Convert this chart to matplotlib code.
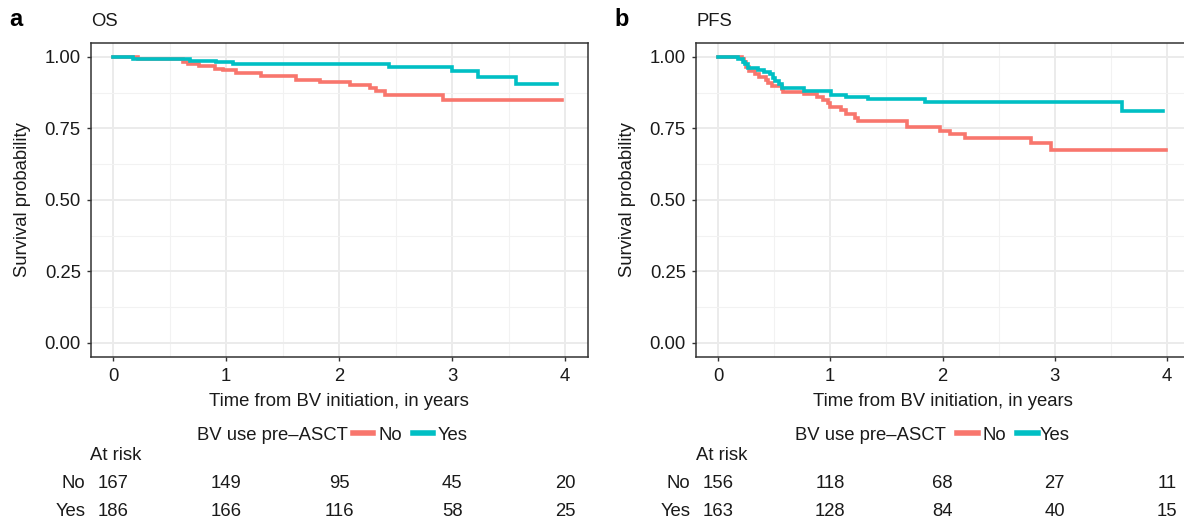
import matplotlib
matplotlib.use("Agg")
import matplotlib.pyplot as plt
from matplotlib.lines import Line2D
from matplotlib.transforms import blended_transform_factory

plt.rcParams['font.family'] = ['Liberation Sans', 'DejaVu Sans']

# ---------------- data ----------------
os_no_t = [0.0, 0.22, 0.615, 0.665, 0.76, 0.90, 0.97, 1.09, 1.31, 1.62, 1.83, 2.10, 2.27, 2.33, 2.41, 2.92, 3.97]
os_no_s = [1.0, 0.992, 0.983, 0.976, 0.967, 0.959, 0.953, 0.945, 0.934, 0.918, 0.911, 0.901, 0.892, 0.880, 0.866, 0.849, 0.849]
os_yes_t = [0.0, 0.18, 0.68, 0.915, 1.06, 2.44, 3.00, 3.23, 3.57, 3.93]
os_yes_s = [1.0, 0.994, 0.987, 0.981, 0.976, 0.965, 0.950, 0.931, 0.907, 0.907]

pfs_no_t = [0.0, 0.21, 0.23, 0.25, 0.28, 0.33, 0.37, 0.43, 0.45, 0.48, 0.57, 0.58, 0.77, 0.88, 0.94,
            0.98, 1.00, 1.10, 1.14, 1.22, 1.25, 1.68, 1.98, 2.07, 2.20, 2.79, 2.97, 3.99]
pfs_no_s = [1.0, 0.992, 0.981, 0.965, 0.950, 0.941, 0.929, 0.921, 0.909, 0.900, 0.889, 0.878, 0.871, 0.861, 0.851,
            0.839, 0.824, 0.813, 0.802, 0.787, 0.775, 0.754, 0.742, 0.731, 0.717, 0.699, 0.676, 0.676]
pfs_yes_t = [0.0, 0.18, 0.22, 0.24, 0.27, 0.36, 0.41, 0.46, 0.49, 0.51, 0.54, 0.57, 0.77, 1.01, 1.14, 1.34, 1.84, 3.60, 3.96]
pfs_yes_s = [1.0, 0.992, 0.983, 0.974, 0.962, 0.955, 0.948, 0.939, 0.927, 0.916, 0.904, 0.890, 0.880, 0.868, 0.861, 0.853, 0.844, 0.810, 0.810]

risk_times = [0, 1, 2, 3, 4]
os_risk_no = [167, 149, 95, 45, 20]
os_risk_yes = [186, 166, 116, 58, 25]
pfs_risk_no = [156, 118, 68, 27, 11]
pfs_risk_yes = [163, 128, 84, 40, 15]

groups = ["No", "Yes"]
colors = ["#F8766D", "#00BFC4"]
legend_title = "BV use pre\u2013ASCT"

W, H = 1184, 522
fig = plt.figure(figsize=(W / 100, H / 100), dpi=100)

def fx(px):
    return px / W

def fy(py):
    return 1 - py / H

TXT = "#1a1a1a"
FS = 13.3

def panel(left_px, right_px, letter, title, curves, risk_rows, leg):
    top_px, bot_px = 42.7, 357.0
    ax = fig.add_axes([fx(left_px), fy(bot_px), fx(right_px - left_px), (bot_px - top_px) / H])
    ax.set_xlim(-0.2, 4.2)
    ax.set_ylim(-0.05, 1.05)
    ax.set_xticks([0, 1, 2, 3, 4])
    ax.set_yticks([0, 0.25, 0.5, 0.75, 1.0])
    ax.set_yticklabels(["0.00", "0.25", "0.50", "0.75", "1.00"])
    ax.set_xticks([0.5, 1.5, 2.5, 3.5], minor=True)
    ax.set_yticks([0.125, 0.375, 0.625, 0.875], minor=True)
    ax.grid(True, which='major', color='#EBEBEB', linewidth=1.4)
    ax.grid(True, which='minor', color='#F2F2F2', linewidth=0.8)
    ax.set_axisbelow(True)
    for sp in ax.spines.values():
        sp.set_color('#333333')
        sp.set_linewidth(1.1)
    ax.tick_params(which='major', length=3, width=1.0, color='#333333', labelsize=FS,
                   labelcolor=TXT)
    ax.tick_params(axis='x', which='major', pad=5)
    ax.tick_params(axis='y', which='major', pad=4)
    ax.tick_params(which='minor', length=0)
    for (t, s), c in zip(curves, colors):
        ax.step(t, s, where='post', color=c, linewidth=2.6, solid_joinstyle='miter')
    ax.set_xlabel("Time from BV initiation, in years", fontsize=FS, color=TXT)
    ax.set_ylabel("Survival probability", fontsize=FS, color=TXT)
    ax.xaxis.label.set_va('center')
    ax.yaxis.label.set_va('center')
    w = right_px - left_px
    h = bot_px - top_px
    ax.xaxis.set_label_coords(0.5, -(401 - bot_px) / h)
    ax.yaxis.set_label_coords(-67.5 / w, 0.5)
    # panel letter and title
    fig.text(fx(left_px - 81), fy(19), letter, fontsize=17, fontweight='bold', color='black',
             ha='left', va='center')
    fig.text(fx(left_px + 1), fy(22), title, fontsize=FS, color=TXT, ha='left', va='center')
    # legend
    lx, sw = leg
    fig.text(fx(lx), fy(435), legend_title, fontsize=FS, color=TXT, ha='left', va='center')
    for (x0, x1, xt), c, g in zip(sw, colors, groups):
        fig.add_artist(Line2D([fx(x0), fx(x1)], [fy(433), fy(433)], color=c, linewidth=4,
                              transform=fig.transFigure))
        fig.text(fx(xt), fy(435), g, fontsize=FS, color=TXT, ha='left', va='center')
    # risk table
    fig.text(fx(left_px), fy(456), "At risk", fontsize=FS, color=TXT, ha='left', va='center')
    tr = blended_transform_factory(ax.transData, fig.transFigure)
    for (g, vals), yy in zip(risk_rows, [483, 512]):
        fig.text(fx(left_px - 5), fy(yy), g, fontsize=FS, color=TXT, ha='right', va='center')
        for t, v in zip(risk_times, vals):
            fig.text(t, fy(yy), str(v), fontsize=FS, color=TXT, ha='center', va='center',
                     transform=tr)
    return ax

panel(90.5, 587.6, "a", "OS",
      [(os_no_t, os_no_s), (os_yes_t, os_yes_s)],
      [("No", os_risk_no), ("Yes", os_risk_yes)],
      (197, [(353, 373, 378), (413, 433, 438)]))
panel(695.5, 1189.5, "b", "PFS",
      [(pfs_no_t, pfs_no_s), (pfs_yes_t, pfs_yes_s)],
      [("No", pfs_risk_no), ("Yes", pfs_risk_yes)],
      (795, [(957, 978, 982), (1017, 1038, 1040)]))

fig.savefig("out.png", dpi=100)
